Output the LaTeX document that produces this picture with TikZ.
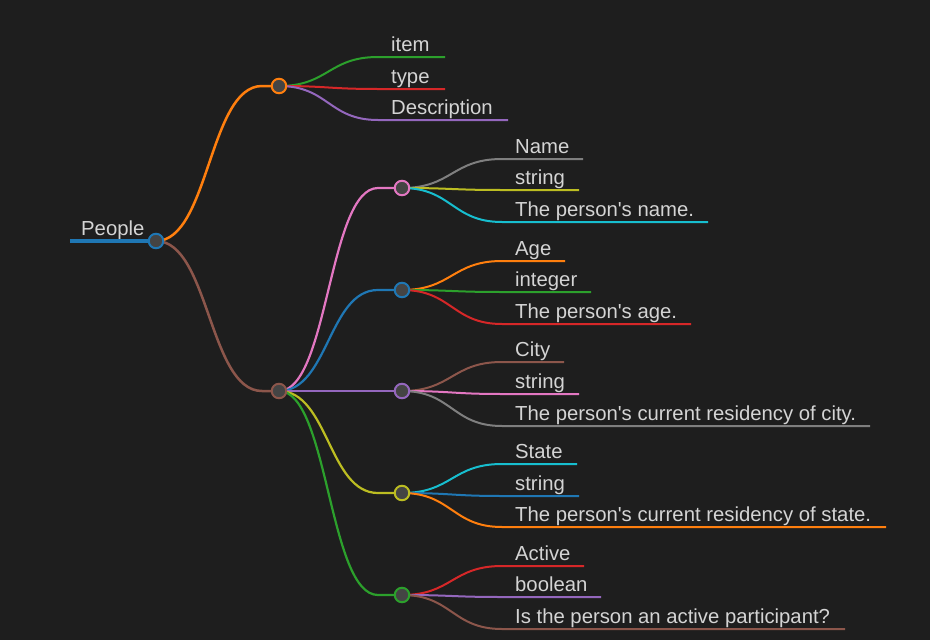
\documentclass[tikz,border=0pt]{standalone}
\usepackage{fontspec}
\setmainfont{Liberation Sans}
\definecolor{bg}{HTML}{1E1E1E}
\definecolor{txt}{HTML}{D4D4D4}
\definecolor{dotfill}{HTML}{444444}
\definecolor{cblue}{HTML}{1F77B4}
\definecolor{corange}{HTML}{FF7F0E}
\definecolor{cgreen}{HTML}{2CA02C}
\definecolor{cred}{HTML}{D62728}
\definecolor{cpurple}{HTML}{9467BD}
\definecolor{cbrown}{HTML}{8C564B}
\definecolor{cpink}{HTML}{E377C2}
\definecolor{cgray}{HTML}{7F7F7F}
\definecolor{colive}{HTML}{BCBD22}
\definecolor{ccyan}{HTML}{17BECF}
\newcommand\mmleaf[8]{% name, color, parent, x0, y, endx, ctrl, text
  \coordinate (#1s) at (#4,#5);
  \coordinate (#1e) at (#6,#5);
  \node[lbl] (#1) at (#4+13,#5-6) {#8};
  \draw[edge3,draw=#2] (#3) .. controls +(#7,0) and +(-#7,0) .. (#1s) -- (#1e);
}
\newcommand\ap{\textquotesingle}
\begin{document}
\begin{tikzpicture}[x=1pt,y=-1pt,
  lbl/.style={anchor=base west,text=txt,inner sep=0pt,font=\fontsize{20.3}{24}\selectfont},
  dot/.style={circle,draw=#1,fill=dotfill,line width=2pt,minimum size=14.5pt,inner sep=0pt},
  edge1/.style={line width=2.5pt},
  edge2/.style={line width=2.2pt},
  edge3/.style={line width=2pt}]
\fill[bg] (0,0) rectangle (930,640);
\useasboundingbox (0,0) rectangle (930,640);
% centres
\coordinate (R) at (156,241);
\coordinate (A) at (279,86);
\coordinate (B) at (279,391);
\coordinate (C1) at (402,188);
\coordinate (C2) at (402,290);
\coordinate (C3) at (402,391);
\coordinate (C4) at (402,493);
\coordinate (C5) at (402,595);
% root
\coordinate (Rs) at (70,241);
\node[lbl] (people) at (81,235) {People};
\draw[line width=4pt,draw=cblue] (Rs) -- (R);
% level 1
\coordinate (As) at (262,86);
\coordinate (Bs) at (262,391);
\draw[edge1,draw=corange] (R) .. controls +(53,0) and +(-53,0) .. (As) -- (A);
\draw[edge1,draw=cbrown] (R) .. controls +(53,0) and +(-53,0) .. (Bs) -- (B);
% level 2 under B
\foreach \n/\c/\y in {C1/cpink/188,C2/cblue/290,C3/cpurple/391,C4/colive/493,C5/cgreen/595}{
  \coordinate (\n s) at (378,\y);
  \draw[edge2,draw=\c] (B) .. controls +(49.5,0) and +(-49.5,0) .. (\n s) -- (\n);
}
% leaves under A
\mmleaf{a1}{cgreen}{A}{378}{57}{445}{49.5}{item}
\mmleaf{a2}{cred}{A}{378}{89}{445}{49.5}{type}
\mmleaf{a3}{cpurple}{A}{378}{120}{508}{49.5}{Description}
% leaves under C1..C5
\mmleaf{b1}{cgray}{C1}{502}{159}{583}{50}{Name}
\mmleaf{b2}{colive}{C1}{502}{190}{579}{50}{string}
\mmleaf{b3}{ccyan}{C1}{502}{222}{708}{50}{The person\ap s name.}
\mmleaf{c1}{corange}{C2}{502}{261}{565}{50}{Age}
\mmleaf{c2}{cgreen}{C2}{502}{292}{591}{50}{integer}
\mmleaf{c3}{cred}{C2}{502}{324}{691}{50}{The person\ap s age.}
\mmleaf{d1}{cbrown}{C3}{502}{362}{564}{50}{City}
\mmleaf{d2}{cpink}{C3}{502}{394}{579}{50}{string}
\mmleaf{d3}{cgray}{C3}{502}{426}{870}{50}{The person\ap s current residency of city.}
\mmleaf{e1}{ccyan}{C4}{502}{464}{577}{50}{State}
\mmleaf{e2}{cblue}{C4}{502}{496}{579}{50}{string}
\mmleaf{e3}{corange}{C4}{502}{527}{886}{50}{The person\ap s current residency of state.}
\mmleaf{f1}{cred}{C5}{502}{566}{584}{50}{Active}
\mmleaf{f2}{cpurple}{C5}{502}{597}{601}{50}{boolean}
\mmleaf{f3}{cbrown}{C5}{502}{629}{845}{50}{Is the person an active participant?}
% circles
\node[dot=cblue] (Rdot) at (R) {};
\node[dot=corange] (Adot) at (A) {};
\node[dot=cbrown] (Bdot) at (B) {};
\node[dot=cpink] (C1dot) at (C1) {};
\node[dot=cblue] (C2dot) at (C2) {};
\node[dot=cpurple] (C3dot) at (C3) {};
\node[dot=colive] (C4dot) at (C4) {};
\node[dot=cgreen] (C5dot) at (C5) {};
\end{tikzpicture}
\end{document}
